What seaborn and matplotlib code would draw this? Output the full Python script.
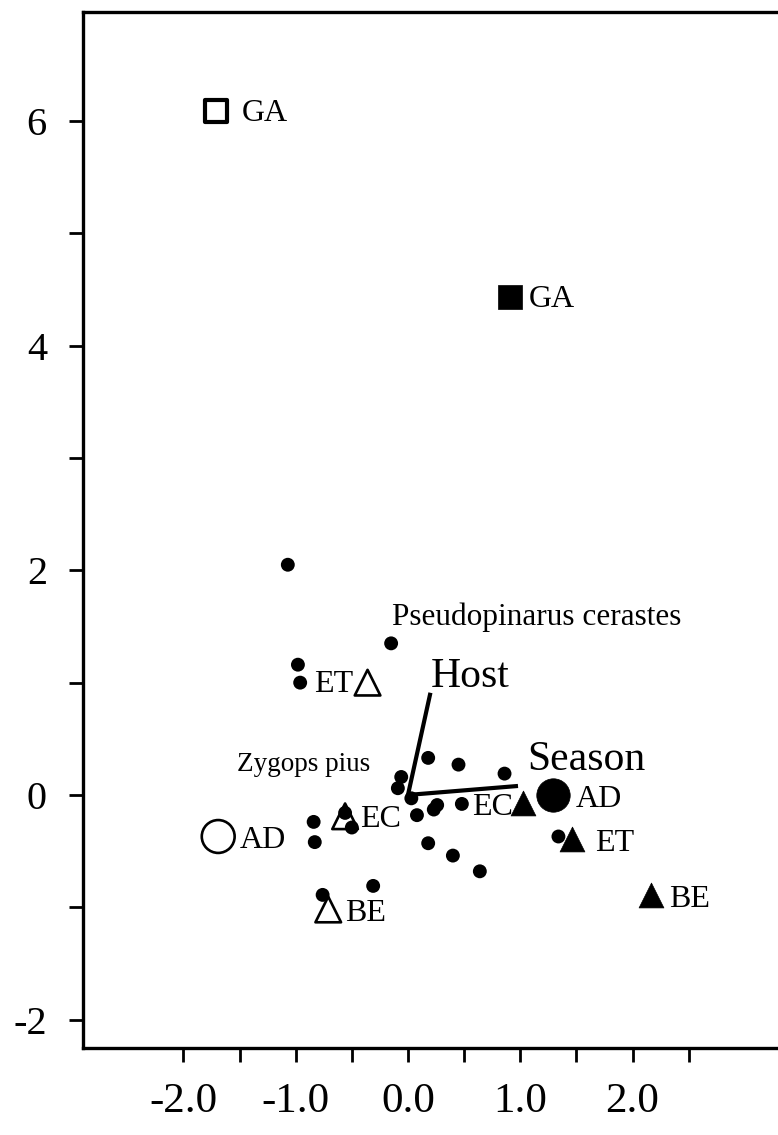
import matplotlib
matplotlib.use("Agg")
import matplotlib.pyplot as plt
import numpy as np
import pandas as pd
import seaborn as sns

# Species scores (axis 1, axis 2)
species_x = [-1.07, -0.15, -0.98, -0.96, 0.18, 0.45, 0.86, -0.06, -0.09, 0.03,
             0.26, 0.23, 0.48, 0.08, 0.18, 0.40, 0.64, -0.31, -0.76, -0.84,
             -0.83, -0.56, -0.50, 1.34]
species_y = [2.05, 1.35, 1.16, 1.00, 0.33, 0.27, 0.19, 0.16, 0.06, -0.03,
             -0.09, -0.13, -0.08, -0.18, -0.43, -0.54, -0.68, -0.81, -0.89, -0.24,
             -0.42, -0.16, -0.29, -0.37]

# Named species
named_species = ["Pseudopinarus cerastes", "Zygops pius"]
named_x = [-0.15, -0.06]
named_y = [1.35, 0.16]

# Site scores, two sets (open and filled symbols)
open_sites = ["GA", "ET", "AD", "EC", "BE"]
open_x = [-1.71, -0.36, -1.69, -0.56, -0.71]
open_y = [6.09, 1.00, -0.37, -0.19, -1.02]

filled_sites = ["GA", "AD", "EC", "ET", "BE"]
filled_x = [0.91, 1.29, 1.02, 1.46, 2.16]
filled_y = [4.43, 0.00, -0.07, -0.39, -0.89]

# Environmental vectors
vector_names = ["Host", "Season"]
vector_x = [0.20, 0.98]
vector_y = [0.91, 0.08]

sns.set_theme(style="ticks")
plt.rcParams["font.family"] = ["Liberation Serif", "DejaVu Serif"]
plt.rcParams["text.color"] = "black"
plt.rcParams["xtick.color"] = "black"
plt.rcParams["ytick.color"] = "black"
plt.rcParams["xtick.labelcolor"] = "black"
plt.rcParams["ytick.labelcolor"] = "black"

fig = plt.figure(figsize=(7.78, 11.35), dpi=100)
ax = fig.add_axes([0.1067, 0.0767, 0.9133, 0.9127])
ax.set_xlim(-2.894, 3.434)
ax.set_ylim(-2.253, 6.972)

shape = {"GA": "s", "AD": "o", "ET": "^", "EC": "^", "BE": "^"}
open_size = {"s": 270, "o": 560, "^": 340}
filled_size = {"s": 310, "o": 580, "^": 320}

# Environmental vectors
for vx, vy in zip(vector_x, vector_y):
    ax.plot([0, vx], [0, vy], color="black", lw=3.0, solid_capstyle="butt", zorder=2)

# Open site symbols
for name, x, y in zip(open_sites, open_x, open_y):
    m = shape[name]
    sns.scatterplot(x=[x], y=[y], marker=m, s=open_size[m],
                    facecolor="none", edgecolor="black",
                    linewidth=3.0 if m == "s" else 1.9, ax=ax, zorder=3)

# Species points
sns.scatterplot(x=species_x, y=species_y, s=100, color="black", edgecolor="none",
                ax=ax, zorder=4)

# Filled site symbols
for name, x, y in zip(filled_sites, filled_x, filled_y):
    m = shape[name]
    sns.scatterplot(x=[x], y=[y], marker=m, s=filled_size[m],
                    color="black", edgecolor="black", linewidth=0.5, ax=ax, zorder=5)

# Site labels: offsets in points, horizontal alignment
open_offsets = {"GA": (18.5, -7.5, "left"), "ET": (-10, -6.5, "right"),
                "AD": (15.5, -8.5, "left"), "EC": (11, -8, "left"),
                "BE": (12, -8.5, "left")}
filled_offsets = {"GA": (13.5, -7.0, "left"), "AD": (16.5, -8.5, "left"),
                  "EC": (-7, -8.5, "right"), "ET": (16.5, -9.0, "left"),
                  "BE": (13.5, -8.5, "left")}

for name, x, y in zip(open_sites, open_x, open_y):
    dx, dy, ha = open_offsets[name]
    ax.annotate(name, (x, y), xytext=(dx, dy), textcoords="offset points",
                ha=ha, va="baseline", fontsize=23, zorder=6)
for name, x, y in zip(filled_sites, filled_x, filled_y):
    dx, dy, ha = filled_offsets[name]
    ax.annotate(name, (x, y), xytext=(dx, dy), textcoords="offset points",
                ha=ha, va="baseline", fontsize=23, zorder=6)

# Species names
species_offsets = [(0.5, 13, "left", 22.5), (-22, 4.5, "right", 19.5)]
for name, x, y, (dx, dy, ha, fs) in zip(named_species, named_x, named_y, species_offsets):
    ax.annotate(name, (x, y), xytext=(dx, dy), textcoords="offset points",
                ha=ha, va="baseline", fontsize=fs, zorder=6)

# Vector names
vector_offsets = [(0, 4, "left"), (6.5, 11.5, "left")]
for name, x, y, (dx, dy, ha) in zip(vector_names, vector_x, vector_y, vector_offsets):
    ax.annotate(name, (x, y), xytext=(dx, dy), textcoords="offset points",
                ha=ha, va="baseline", fontsize=30, zorder=6)

# Axes styling
ax.set_xticks([-2.0, -1.0, 0.0, 1.0, 2.0])
ax.set_xticklabels(["-2.0", "-1.0", "0.0", "1.0", "2.0"])
ax.set_xticks([-1.5, -0.5, 0.5, 1.5, 2.5], minor=True)
ax.set_yticks([-2, 0, 2, 4, 6])
ax.set_yticklabels(["-2", "0", "2", "4", "6"])
ax.set_yticks([-1, 1, 3, 5], minor=True)

ax.tick_params(axis="both", which="both", direction="out", length=10, width=2,
               color="black", labelcolor="black")
ax.tick_params(axis="x", which="major", labelsize=31, pad=15)
ax.tick_params(axis="y", which="major", labelsize=29, pad=16)

for side in ["left", "bottom", "top"]:
    ax.spines[side].set_linewidth(2.4)
    ax.spines[side].set_color("black")
ax.spines["right"].set_visible(False)
ax.set_xlabel("")
ax.set_ylabel("")
ax.set_facecolor("white")

fig.savefig("out.png", dpi=100, facecolor="white")
